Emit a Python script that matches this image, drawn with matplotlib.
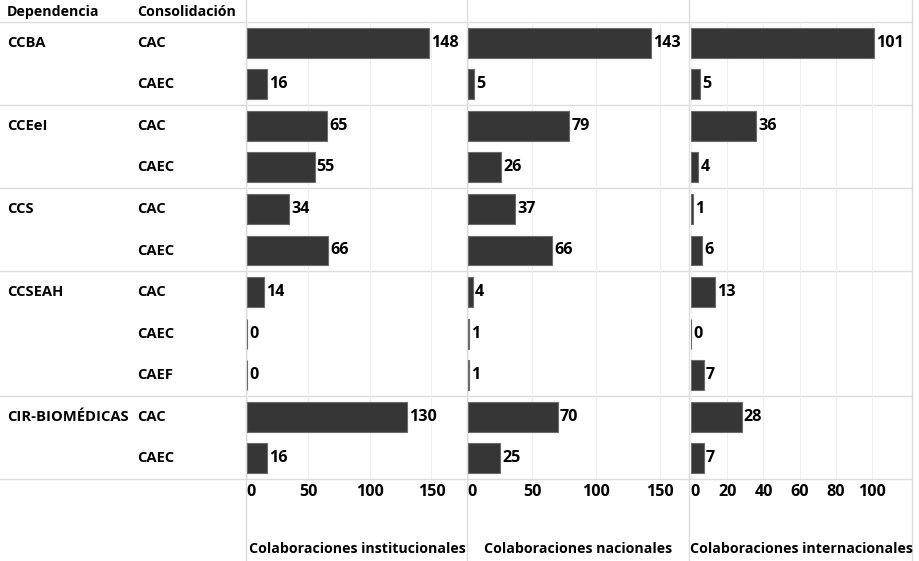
import matplotlib
matplotlib.use("Agg")
import matplotlib.pyplot as plt
from matplotlib.lines import Line2D

dependencias = ["CCBA", "CCEeI", "CCS", "CCSEAH", "CIR-BIOMÉDICAS"]
consolidacion = [["CAC", "CAEC"], ["CAC", "CAEC"], ["CAC", "CAEC"],
                 ["CAC", "CAEC", "CAEF"], ["CAC", "CAEC"]]
institucionales = [148, 16, 65, 55, 34, 66, 14, 0, 0, 130, 16]
nacionales = [143, 5, 79, 26, 37, 66, 4, 1, 1, 70, 25]
internacionales = [101, 5, 36, 4, 1, 6, 13, 0, 7, 28, 7]

series = [
    ("Colaboraciones institucionales", institucionales, [0, 50, 100, 150], 178.9),
    ("Colaboraciones nacionales", nacionales, [0, 50, 100, 150], 172.7),
    ("Colaboraciones internacionales", internacionales, [0, 20, 40, 60, 80, 100], 122.0),
]

W, H = 919, 561
TOP, BOT = 22, 479
panels = [(247, 467), (468, 689), (691, 912)]
n_rows = len(institucionales)
row_h = (BOT - TOP) / n_rows

plt.rcParams["font.family"] = ["Open Sans", "DejaVu Sans"]
FS = 10.6      # row labels
FS_NUM = 11.6  # value labels and tick labels
FS_TITLE = 10.2
WEIGHT = "bold"
BAR = "#363636"
SEP = "#dcdcdc"
GRID = "#efefef"

fig = plt.figure(figsize=(W / 100, H / 100), dpi=100)
bg = fig.add_axes([0, 0, 1, 1])
bg.set_xlim(0, W)
bg.set_ylim(H, 0)
bg.axis("off")

for (x0, x1), (title, vals, ticks, xmax) in zip(panels, series):
    ax = fig.add_axes([x0 / W, 1 - BOT / H, (x1 - x0) / W, (BOT - TOP) / H])
    ax.set_xlim(0, xmax)
    ax.set_ylim(n_rows - 0.5, -0.5)
    for t in ticks:
        ax.axvline(t, color=GRID, lw=0.8, zorder=0)
    ys = list(range(n_rows))
    ax.barh(ys, vals, height=0.72, color=BAR, edgecolor="#6a6a6a", linewidth=0.8, zorder=2)
    for y, v in zip(ys, vals):
        ax.annotate(str(v), (v, y), xytext=(1.5, 0), textcoords="offset points",
                    ha="left", va="center", fontsize=FS_NUM, fontweight=WEIGHT, color="black")
    ax.set_xticks([])
    ax.set_yticks([])
    for s in ax.spines.values():
        s.set_visible(False)
    ax.patch.set_alpha(0)
    # tick labels and axis title in pixel coordinates
    scale = (x1 - x0) / xmax
    for t in ticks:
        xp = x0 + t * scale
        if t == 0:
            xp += 4
        bg.text(xp, 492, str(t), ha="center", va="center", fontsize=FS_NUM,
                fontweight=WEIGHT, color="black")
    bg.text((x0 + x1) / 2, 549, title, ha="center", va="center", fontsize=FS_TITLE,
            fontweight=WEIGHT, color="black")

# headers
bg.text(7, 12, "Dependencia", ha="left", va="center", fontsize=FS_TITLE, fontweight=WEIGHT)
bg.text(137, 12, "Consolidación", ha="left", va="center", fontsize=FS_TITLE, fontweight=WEIGHT)

# row labels and separators
bg.add_line(Line2D([0, 912], [TOP, TOP], color=SEP, lw=1))
row = 0
for dep, cons in zip(dependencias, consolidacion):
    yc = TOP + (row + 0.5) * row_h
    bg.text(7, yc, dep, ha="left", va="center", fontsize=FS, fontweight=WEIGHT)
    for c in cons:
        yc = TOP + (row + 0.5) * row_h
        bg.text(137, yc, c, ha="left", va="center", fontsize=FS, fontweight=WEIGHT)
        row += 1
    ysep = TOP + row * row_h
    bg.add_line(Line2D([0, 912], [ysep, ysep], color=SEP, lw=1))

for xv in [246, 467, 689, 912]:
    bg.add_line(Line2D([xv, xv], [0, H], color=SEP, lw=1))

fig.savefig("out.png", dpi=100)
